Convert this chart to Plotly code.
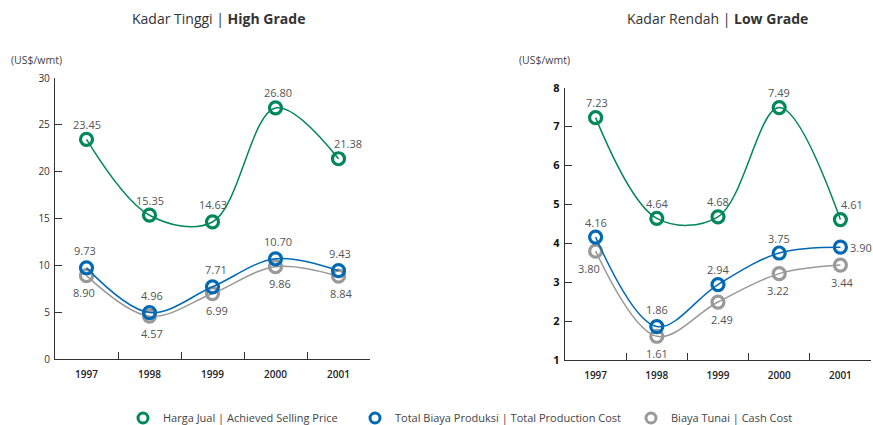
import plotly.graph_objects as go

# ---- data -------------------------------------------------------------
years = ["1997", "1998", "1999", "2000", "2001"]

high_selling = [23.45, 15.35, 14.63, 26.80, 21.38]
high_total = [9.73, 4.96, 7.71, 10.70, 9.43]
high_cash = [8.90, 4.57, 6.99, 9.86, 8.84]

low_selling = [7.23, 4.64, 4.68, 7.49, 4.61]
low_total = [4.16, 1.86, 2.94, 3.75, 3.90]
low_cash = [3.80, 1.61, 2.49, 3.22, 3.44]

series_names = [
    "Harga Jual | Achieved Selling Price",
    "Total Biaya Produksi | Total Production Cost",
    "Biaya Tunai | Cash Cost",
]
colors = ["#00875a", "#0069b4", "#999999"]

FONT = "Open Sans"
W, H = 873, 425

fig = go.Figure()


def add_series(values, color, xa, ya):
    fig.add_trace(go.Scatter(
        x=years, y=values, xaxis=xa, yaxis=ya,
        mode="lines+markers",
        line=dict(color=color, width=1.5, shape="spline", smoothing=1.0),
        marker=dict(symbol="circle-open", size=12, color=color,
                    line=dict(width=3.2, color=color)),
        showlegend=False, hoverinfo="skip",
    ))


# draw cash first so total and selling sit on top
for vals, col, xa, ya in [
    (high_cash, colors[2], "x", "y"),
    (high_total, colors[1], "x", "y"),
    (high_selling, colors[0], "x", "y"),
    (low_cash, colors[2], "x2", "y2"),
    (low_total, colors[1], "x2", "y2"),
    (low_selling, colors[0], "x2", "y2"),
]:
    add_series(vals, col, xa, ya)

# legend entries (marker only), each in its own legend box
for i, (name, col) in enumerate(zip(series_names, colors)):
    fig.add_trace(go.Scatter(
        x=[None], y=[None], mode="markers", name=name,
        marker=dict(symbol="circle-open", size=10, color=col,
                    line=dict(width=3, color=col)),
        legend="legend" if i == 0 else f"legend{i + 1}",
    ))

# ---- value labels -----------------------------------------------------
annotations = []


def label(xref, yref, vals, dy, dx):
    for k, v in enumerate(vals):
        annotations.append(dict(
            x=k, y=v, xref=xref, yref=yref, text=f"{v:.2f}",
            showarrow=False, yshift=dy[k] if isinstance(dy, list) else dy,
            xshift=dx[k],
            font=dict(family=FONT, size=11, color="#555555"),
        ))


label("x", "y", high_selling, [15, 15, 17, 15, 15], [0, 0, 0, 2, 9])
label("x", "y", high_total, 17, [-2, 2, 3, 2, 1])
label("x", "y", high_cash, -17, [-3, 2, 4, 4, 2])

label("x2", "y2", low_selling, 15, [1, 0, 0, 0, 12])
label("x2", "y2", low_total, [15, 17, 15, 15, 0], [0, 0, 0, 0, 21])
label("x2", "y2", low_cash, -17, [-7, 0, 4, -1, 2])

# ---- titles and unit labels ------------------------------------------
for xc, txt in [(218, "Kadar Tinggi | <b>High Grade</b>"),
                (717, "Kadar Rendah | <b>Low Grade</b>")]:
    annotations.append(dict(
        x=xc / W, y=1 - 18 / H, xref="paper", yref="paper", text=txt,
        showarrow=False, xanchor="center", yanchor="middle",
        font=dict(family=FONT, size=14, color="#333333"),
    ))
for xl in [9, 517]:
    annotations.append(dict(
        x=xl / W, y=1 - 60 / H, xref="paper", yref="paper",
        text="(US$/wmt)", showarrow=False, xanchor="left", yanchor="middle",
        font=dict(family=FONT, size=10.5, color="#444444"),
    ))

axis_common = dict(
    showline=True, linecolor="#333333", linewidth=1.3,
    ticks="inside", ticklen=7, tickcolor="#333333", tickwidth=1.3,
    showgrid=False, zeroline=False, fixedrange=True,
)
xcommon = dict(axis_common, type="category", range=[-0.5, 4.5],
               tickson="boundaries", ticklabelstandoff=6,
               tickfont=dict(family=FONT, size=10, color="#222222",
                             weight=600))

fig.update_layout(
    width=W, height=H,
    margin=dict(l=0, r=0, t=0, b=0, autoexpand=False),
    paper_bgcolor="white", plot_bgcolor="white",
    font=dict(family=FONT),
    xaxis=dict(xcommon, domain=[55 / W, 370 / W], anchor="y"),
    yaxis=dict(axis_common, domain=[1 - 359 / H, 1 - 78 / H], anchor="x",
               range=[0, 30], dtick=5, ticklabelstandoff=2,
               tickfont=dict(family=FONT, size=10, color="#333333")),
    xaxis2=dict(xcommon, domain=[565 / W, 871 / W], anchor="y2"),
    yaxis2=dict(axis_common, domain=[1 - 360 / H, 1 - 87.7 / H], anchor="x2",
                range=[1, 8], dtick=1, ticklabelstandoff=2,
                tickfont=dict(family=FONT, size=11, color="#111111",
                              weight="bold")),
    annotations=annotations,
)

leg_common = dict(orientation="h", yanchor="middle", y=1 - 418 / H,
                  xanchor="left", bgcolor="rgba(0,0,0,0)",
                  font=dict(family=FONT, size=11, color="#444444"),
                  itemsizing="trace")
fig.update_layout(
    legend=dict(leg_common, x=(143 - 20) / W),
    legend2=dict(leg_common, x=(375 - 20) / W),
    legend3=dict(leg_common, x=(651 - 20) / W),
)

fig.write_html("out.html")
